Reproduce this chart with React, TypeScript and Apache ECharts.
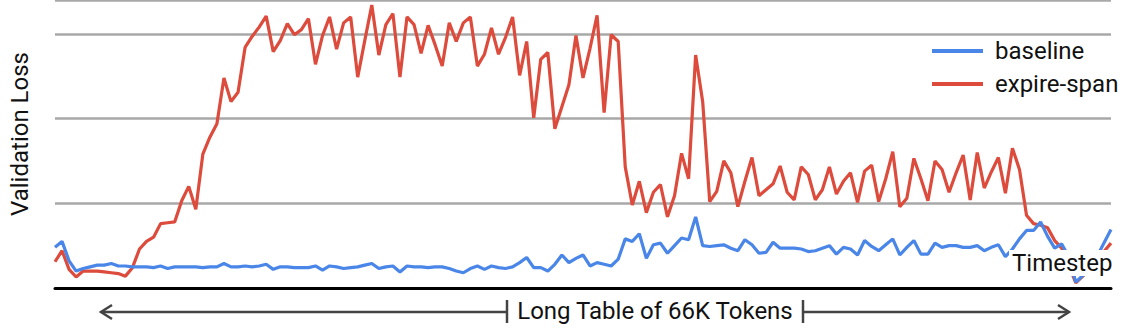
import React, { useEffect, useRef } from "react";
import * as echarts from "echarts";

// Timestep index (151 evaluation points along the long table)
const timesteps: string[] = Array.from({ length: 151 }, (_, i) => String(i));

const seriesNames = ["baseline", "expire-span"];

const baseline: number[] = [
  0.48, 0.55, 0.32, 0.2, 0.23, 0.25, 0.27, 0.27, 0.29, 0.26,
  0.26, 0.25, 0.25, 0.25, 0.24, 0.26, 0.23, 0.25, 0.25, 0.25,
  0.25, 0.24, 0.25, 0.25, 0.29, 0.25, 0.25, 0.26, 0.25, 0.26,
  0.28, 0.22, 0.25, 0.25, 0.24, 0.24, 0.24, 0.26, 0.21, 0.26,
  0.25, 0.23, 0.24, 0.25, 0.27, 0.29, 0.23, 0.25, 0.26, 0.19,
  0.26, 0.25, 0.25, 0.24, 0.25, 0.25, 0.23, 0.2, 0.18, 0.23,
  0.26, 0.22, 0.26, 0.24, 0.23, 0.25, 0.3, 0.36, 0.24, 0.24,
  0.2, 0.28, 0.39, 0.3, 0.35, 0.39, 0.26, 0.3, 0.28, 0.26,
  0.34, 0.58, 0.55, 0.64, 0.35, 0.51, 0.53, 0.41, 0.5, 0.59,
  0.57, 0.84, 0.5, 0.49, 0.5, 0.51, 0.47, 0.44, 0.57, 0.51,
  0.41, 0.42, 0.54, 0.47, 0.47, 0.47, 0.46, 0.43, 0.44, 0.47,
  0.5, 0.4, 0.48, 0.46, 0.39, 0.56, 0.49, 0.44, 0.51, 0.58,
  0.39, 0.48, 0.56, 0.4, 0.4, 0.53, 0.48, 0.5, 0.5, 0.48,
  0.48, 0.5, 0.44, 0.48, 0.51, 0.37, 0.46, 0.58, 0.68, 0.68,
  0.78, 0.61, 0.47, 0.52, 0.37, 0.07, 0.15, 0.23, 0.37, 0.53,
  0.69,
];

const expireSpan: number[] = [
  0.31, 0.44, 0.22, 0.13, 0.2, 0.2, 0.2, 0.19, 0.18, 0.17,
  0.14, 0.24, 0.46, 0.55, 0.6, 0.76, 0.77, 0.78, 1.03, 1.2,
  0.93, 1.58, 1.78, 1.94, 2.48, 2.2, 2.31, 2.84, 2.97, 3.08,
  3.21, 2.79, 2.92, 3.12, 2.99, 3.05, 3.18, 2.64, 2.98, 3.2,
  2.82, 3.13, 3.2, 2.49, 2.92, 3.34, 2.75, 3.11, 3.24, 2.49,
  3.2, 3.11, 2.77, 3.1, 2.87, 2.62, 3.13, 2.91, 3.13, 3.2,
  2.62, 2.76, 3.07, 2.76, 2.96, 3.2, 2.51, 2.91, 2.01, 2.7,
  2.78, 1.88, 2.14, 2.4, 2.98, 2.48, 2.83, 3.22, 2.07, 2.99,
  2.91, 1.43, 0.98, 1.26, 0.89, 1.13, 1.22, 0.84, 1.09, 1.59,
  1.29, 2.75, 2.2, 1.02, 1.14, 1.5, 1.36, 0.96, 1.26, 1.54,
  1.09, 1.16, 1.23, 1.44, 1.13, 1.04, 1.43, 1.34, 1.04, 1.16,
  1.43, 1.11, 1.26, 1.36, 1.01, 1.38, 1.45, 1.02, 1.29, 1.61,
  0.96, 1.06, 1.53, 1.29, 1.03, 1.5, 1.4, 1.13, 1.36, 1.57,
  1.04, 1.6, 1.18, 1.37, 1.54, 1.12, 1.65, 1.4, 0.86, 0.76,
  0.74, 0.71, 0.56, 0.47, 0.27, 0.06, 0.14, 0.23, 0.33, 0.43,
  0.53,
];

const BLUE = "#4a86e8";
const RED = "#dc4b3c";
const FONT = "Roboto";
const FS = 24;

export default function App() {
  const ref = useRef<HTMLDivElement>(null);

  useEffect(() => {
    if (!ref.current) return;
    const chart = echarts.init(ref.current, null, { renderer: "svg" });
    chart.setOption({
      animation: false,
      backgroundColor: "#fff",
      grid: { left: 54, right: 17, top: -3, bottom: 44 },
      legend: {
        data: seriesNames,
        orient: "vertical",
        left: 932,
        top: 38,
        padding: 0,
        itemWidth: 51,
        itemHeight: 4,
        itemGap: 7,
        icon: "rect",
        textStyle: {
          fontSize: FS,
          fontFamily: FONT,
          color: "#111",
          lineHeight: 26,
          padding: [0, 0, 0, 7],
        },
      },
      xAxis: {
        type: "category",
        data: timesteps,
        boundaryGap: false,
        axisLine: { lineStyle: { color: "#000", width: 3 } },
        axisTick: { show: false },
        axisLabel: { show: false },
        splitLine: { show: false },
      },
      yAxis: {
        type: "value",
        min: 0,
        max: 3.4,
        interval: 1,
        axisLine: { show: false },
        axisTick: { show: false },
        axisLabel: { show: false },
        splitLine: { lineStyle: { color: "#a8a8a8", width: 2.5 } },
        name: "Validation Loss",
        nameLocation: "middle",
        nameGap: 23,
        nameTextStyle: {
          fontSize: FS,
          fontFamily: FONT,
          color: "#111",
          padding: [0, 0, 0, 20],
        },
      },
      series: [
        {
          name: seriesNames[1],
          type: "line",
          data: expireSpan,
          symbol: "none",
          color: RED,
          lineStyle: { color: RED, width: 3.2 },
          z: 2,
        },
        {
          name: seriesNames[0],
          type: "line",
          data: baseline,
          symbol: "none",
          color: BLUE,
          lineStyle: { color: BLUE, width: 3.2 },
          z: 3,
        },
      ],
      graphic: [
        {
          type: "text",
          left: 1009,
          top: 250,
          z: 100,
          style: {
            text: "Timestep",
            fill: "#111",
            fontSize: FS,
            fontFamily: FONT,
            backgroundColor: "#fff",
            padding: [1, 2, 1, 3],
          },
        },
        {
          type: "line",
          z: 50,
          shape: { x1: 101, y1: 312, x2: 507, y2: 312 },
          style: { stroke: "#444", lineWidth: 2.5 },
        },
        {
          type: "polyline",
          z: 50,
          shape: { points: [[112, 305], [101, 312], [112, 319]] },
          style: { stroke: "#444", lineWidth: 2.5, fill: "none" },
        },
        {
          type: "line",
          z: 50,
          shape: { x1: 507, y1: 300, x2: 507, y2: 323 },
          style: { stroke: "#444", lineWidth: 2.5 },
        },
        {
          type: "text",
          z: 50,
          x: 655,
          y: 311,
          style: {
            text: "Long Table of 66K Tokens",
            fill: "#111",
            fontSize: FS,
            fontFamily: FONT,
            align: "center",
            verticalAlign: "middle",
          },
        },
        {
          type: "line",
          z: 50,
          shape: { x1: 803, y1: 300, x2: 803, y2: 323 },
          style: { stroke: "#444", lineWidth: 2.5 },
        },
        {
          type: "line",
          z: 50,
          shape: { x1: 803, y1: 312, x2: 1069, y2: 312 },
          style: { stroke: "#444", lineWidth: 2.5 },
        },
        {
          type: "polyline",
          z: 50,
          shape: { points: [[1058, 305], [1069, 312], [1058, 319]] },
          style: { stroke: "#444", lineWidth: 2.5, fill: "none" },
        },
      ],
    });
    return () => chart.dispose();
  }, []);

  return (
    <div
      ref={ref}
      style={{ position: "absolute", left: 0, top: 0, width: 1128, height: 332 }}
    />
  );
}
